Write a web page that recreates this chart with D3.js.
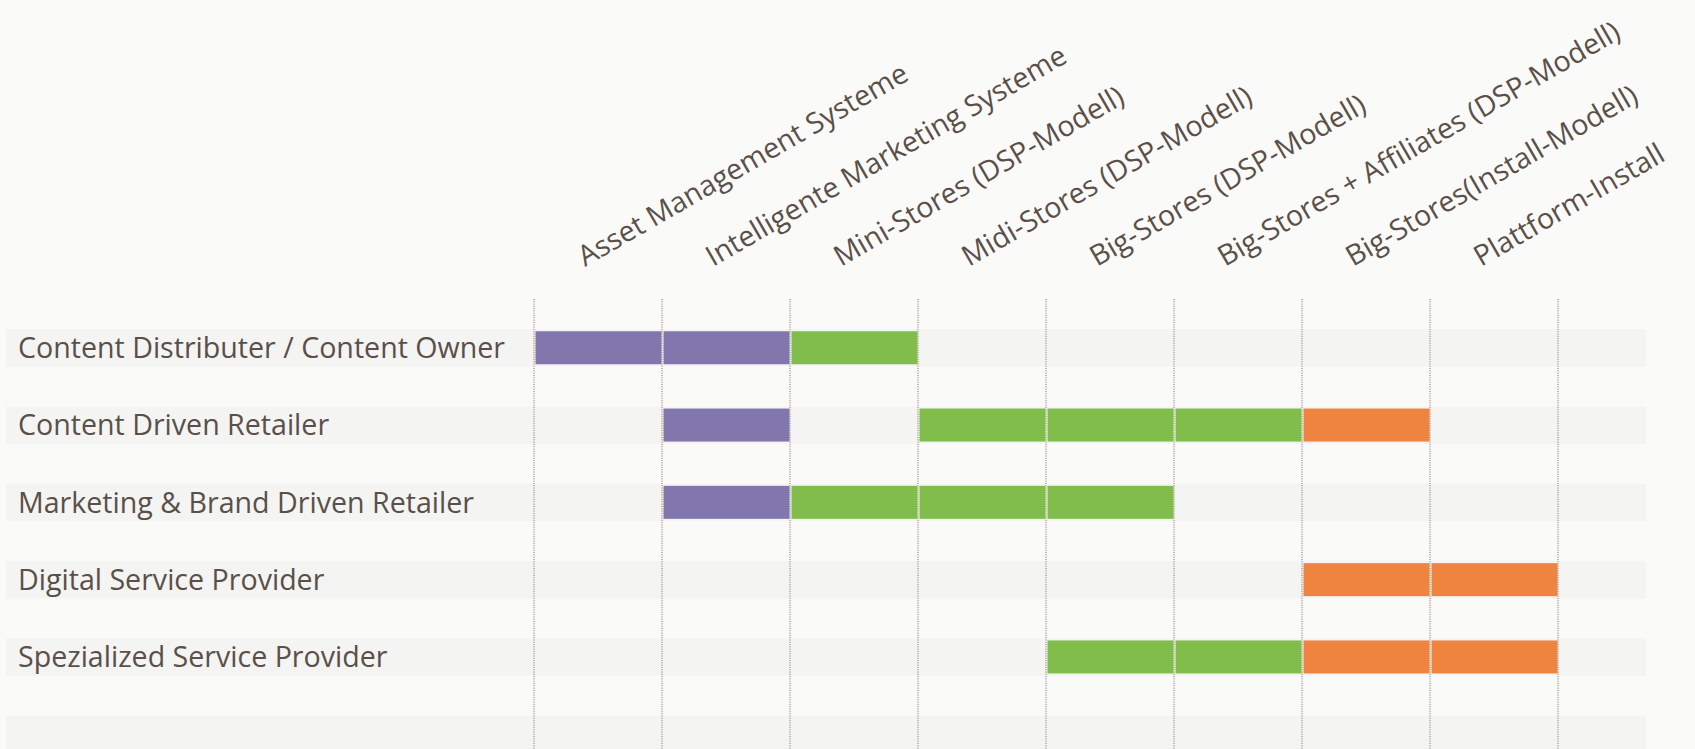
<!DOCTYPE html>
<html>
<head>
<meta charset="utf-8">
<script src="https://cdn.jsdelivr.net/npm/d3@7"></script>
<style>
  html, body { margin: 0; padding: 0; background: #fafaf8; }
  svg { display: block; }
  text { font-family: "Open Sans", Lato, sans-serif; fill: #5a5049; }
</style>
</head>
<body>
<svg width="1695" height="749"></svg>
<script>
// rows (last one is an empty band), columns and which cells are filled
const rows = [
  'Content Distributer / Content Owner',
  'Content Driven Retailer',
  'Marketing & Brand Driven Retailer',
  'Digital Service Provider',
  'Spezialized Service Provider',
  ''
];
const columns = [
  'Asset Management Systeme',
  'Intelligente Marketing Systeme',
  'Mini-Stores (DSP-Modell)',
  'Midi-Stores (DSP-Modell)',
  'Big-Stores (DSP-Modell)',
  'Big-Stores + Affiliates (DSP-Modell)',
  'Big-Stores(Install-Modell)',
  'Plattform-Install'
];
// [row, column]
const systemCells  = [[0,0],[0,1],[1,1],[2,1]];
const dspCells     = [[0,2],[1,3],[1,4],[1,5],[2,2],[2,3],[2,4],[4,4],[4,5]];
const installCells = [[1,6],[3,6],[3,7],[4,6],[4,7]];

const W = 1695, H = 749;
const svg = d3.select('svg');
const xs = d3.scaleBand().domain(d3.range(columns.length)).range([534, 1558]);
const ys = d3.scaleBand().domain(d3.range(rows.length)).range([329, 753]).paddingInner(0.515);
const bw = xs.bandwidth(), bh = ys.bandwidth(), barH = 33;

// row bands
svg.append('g').selectAll('rect').data(rows).join('rect')
  .attr('x', 6).attr('width', 1640)
  .attr('y', (d, i) => ys(i)).attr('height', bh)
  .attr('fill', '#f4f4f2');

// dotted column separators
svg.append('g').selectAll('line').data(d3.range(columns.length + 1)).join('line')
  .attr('x1', i => i < columns.length ? xs(i) : xs(columns.length - 1) + bw)
  .attr('x2', i => i < columns.length ? xs(i) : xs(columns.length - 1) + bw)
  .attr('y1', 299).attr('y2', H)
  .attr('stroke', '#7a6b61').attr('stroke-width', 1).attr('stroke-dasharray', '1,1.3');

// filled cells
const groups = [
  { cells: systemCells, color: '#8277ad' },
  { cells: dspCells, color: '#80bd4b' },
  { cells: installCells, color: '#ee843f' }
];
groups.forEach(gr => {
  svg.append('g').selectAll('rect').data(gr.cells).join('rect')
    .attr('x', d => xs(d[1]) + 1.5).attr('width', bw - 2)
    .attr('y', d => ys(d[0]) + (bh - barH) / 2).attr('height', barH)
    .attr('fill', gr.color);
});

// row labels
svg.append('g').selectAll('text').data(rows).join('text')
  .attr('x', 18).attr('y', (d, i) => ys(i) + bh / 2).attr('dy', '0.36em')
  .attr('font-size', 28.6).text(d => d);

// rotated column headers
svg.append('g').selectAll('text').data(columns).join('text')
  .attr('transform', (d, i) => `translate(${xs(i) + bw / 2 - 13},267) rotate(-30)`)
  .attr('font-size', 28.6).text(d => d);
</script>
</body>
</html>
